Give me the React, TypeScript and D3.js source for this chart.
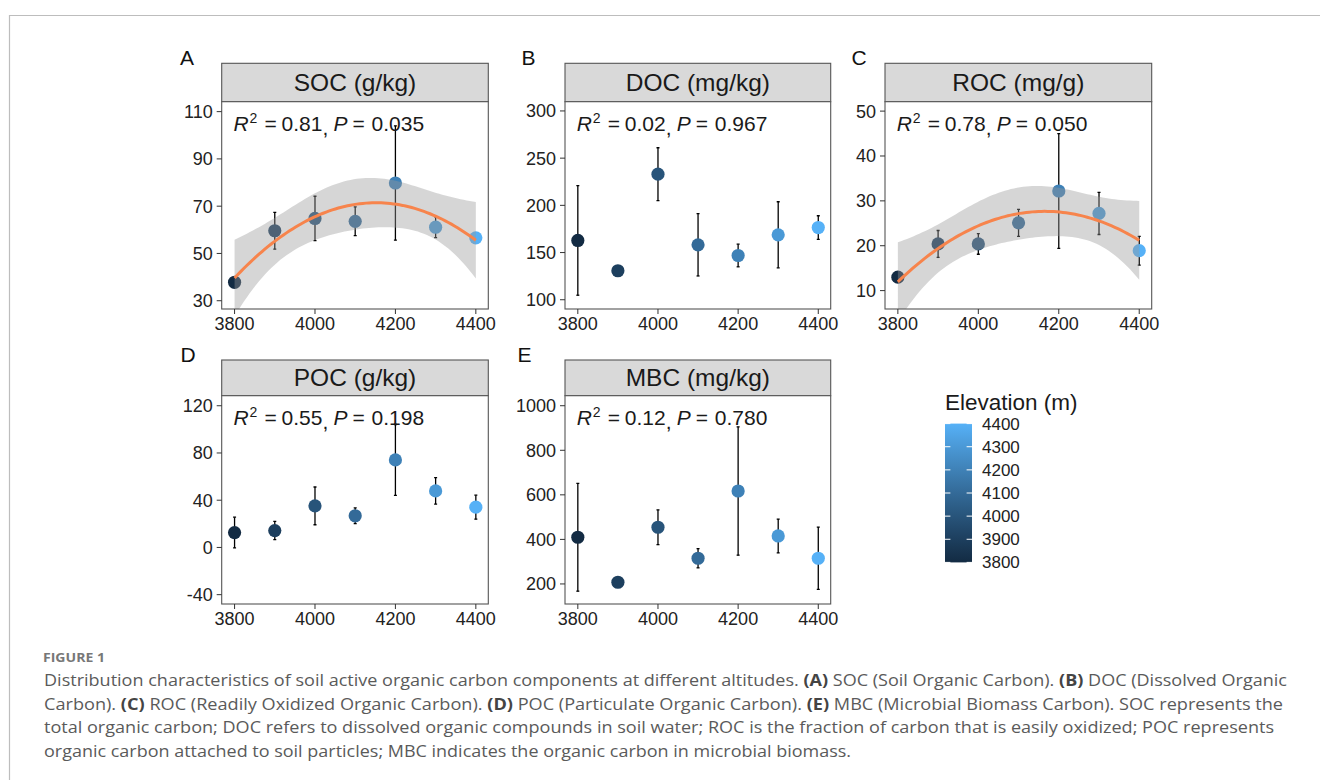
import React from "react";
import * as d3 from "d3";

// ---------------- DATA ----------------
const ELEVATION = [3800, 3900, 4000, 4100, 4200, 4300, 4400];
const X_TICKS = [3800, 4000, 4200, 4400];

const SOC_MEAN = [37.8, 59.6, 64.8, 63.6, 79.8, 61.1, 56.6];
const SOC_ERR = [1.0, 7.8, 9.4, 6.1, 24.2, 4.4, 1.0];
const SOC_TICKS = [30, 50, 70, 90, 110];

const DOC_MEAN = [162.8, 130.7, 233.0, 158.2, 146.9, 168.8, 176.5];
const DOC_ERR = [58.0, 5.0, 28.0, 33.0, 12.0, 35.0, 12.5];
const DOC_TICKS = [100, 150, 200, 250, 300];

const ROC_MEAN = [13.0, 20.4, 20.4, 25.1, 32.2, 27.2, 18.9];
const ROC_ERR = [0.6, 3.0, 2.3, 3.0, 12.8, 4.7, 3.2];
const ROC_TICKS = [10, 20, 30, 40, 50];

const POC_MEAN = [12.6, 14.3, 35.2, 26.8, 74.1, 47.9, 34.1];
const POC_ERR = [13.0, 7.7, 16.0, 6.7, 30.0, 11.2, 10.2];
const POC_TICKS = [-40, 0, 40, 80, 120];

const MBC_MEAN = [409.6, 207.7, 454.5, 315.4, 617.3, 415.4, 315.4];
const MBC_ERR = [242, 10, 78, 43, 288, 76, 140];
const MBC_TICKS = [200, 400, 600, 800, 1000];

const LEGEND_TICKS = [3800, 3900, 4000, 4100, 4200, 4300, 4400];

const PANEL_TITLES = ["SOC (g/kg)", "DOC (mg/kg)", "ROC (mg/g)", "POC (g/kg)", "MBC (mg/kg)"];
const PANEL_LETTERS = ["A", "B", "C", "D", "E"];
const R2_TEXT = ["0.81", "0.02", "0.78", "0.55", "0.12"];
const P_TEXT = ["0.035", "0.967", "0.050", "0.198", "0.780"];

// ---------------- LAYOUT ----------------
const COL_LEFT = [221.7, 565, 885];
const COL_RIGHT = [488.3, 830.7, 1151.7];
const STRIP_TOP = [63.3, 360];
const STRIP_BOTTOM = [101.7, 395.7];
const PANEL_BOTTOM = [309, 604];
const X_DOMAIN: [number, number] = [3768, 4431];

const FONT = "'Liberation Sans', Arial, sans-serif";
const colorScale = d3
  .scaleLinear<string>()
  .domain([3800, 4400])
  .range(["#132B43", "#56B1F7"])
  .interpolate(d3.interpolateLab);

type Panel = {
  mean: number[];
  err: number[];
  ticks: number[];
  domain: [number, number];
  fit: boolean;
  col: number;
  row: number;
  labelX: number;
};

const PANELS: Panel[] = [
  { mean: SOC_MEAN, err: SOC_ERR, ticks: SOC_TICKS, domain: [26.5, 114.2], fit: true, col: 0, row: 0, labelX: 180 },
  { mean: DOC_MEAN, err: DOC_ERR, ticks: DOC_TICKS, domain: [90.2, 309.8], fit: false, col: 1, row: 0, labelX: 521.5 },
  { mean: ROC_MEAN, err: ROC_ERR, ticks: ROC_TICKS, domain: [5.9, 52.1], fit: true, col: 2, row: 0, labelX: 851.5 },
  { mean: POC_MEAN, err: POC_ERR, ticks: POC_TICKS, domain: [-47.9, 128.5], fit: false, col: 0, row: 1, labelX: 180.5 },
  { mean: MBC_MEAN, err: MBC_ERR, ticks: MBC_TICKS, domain: [110, 1045], fit: false, col: 1, row: 1, labelX: 517.5 },
];

// quadratic least squares fit with 95% confidence band (like geom_smooth(method="lm", formula=y~poly(x,2)))
function quadFit(xs: number[], ys: number[]) {
  const n = xs.length;
  const xm = d3.mean(xs) as number;
  const ts = xs.map((x) => (x - xm) / 100);
  const A = [
    [0, 0, 0],
    [0, 0, 0],
    [0, 0, 0],
  ];
  const bv = [0, 0, 0];
  ts.forEach((t, i) => {
    const v = [1, t, t * t];
    for (let r = 0; r < 3; r++) {
      bv[r] += v[r] * ys[i];
      for (let c = 0; c < 3; c++) A[r][c] += v[r] * v[c];
    }
  });
  // invert 3x3
  const [a, b, c] = A[0];
  const [d, e, f] = A[1];
  const [g, h, k] = A[2];
  const det = a * (e * k - f * h) - b * (d * k - f * g) + c * (d * h - e * g);
  const inv = [
    [(e * k - f * h) / det, (c * h - b * k) / det, (b * f - c * e) / det],
    [(f * g - d * k) / det, (a * k - c * g) / det, (c * d - a * f) / det],
    [(d * h - e * g) / det, (b * g - a * h) / det, (a * e - b * d) / det],
  ];
  const beta = inv.map((row) => row[0] * bv[0] + row[1] * bv[1] + row[2] * bv[2]);
  const pred = (t: number) => beta[0] + beta[1] * t + beta[2] * t * t;
  const ssRes = d3.sum(ts, (t, i) => (ys[i] - pred(t)) ** 2);
  const s = Math.sqrt(ssRes / (n - 3));
  const tCrit = 2.776; // qt(0.975, df = 4)
  return (x: number) => {
    const t = (x - xm) / 100;
    const v = [1, t, t * t];
    let q = 0;
    for (let r = 0; r < 3; r++) for (let cc = 0; cc < 3; cc++) q += v[r] * inv[r][cc] * v[cc];
    const y = pred(t);
    const se = s * Math.sqrt(q);
    return { x, y, lo: y - tCrit * se, hi: y + tCrit * se };
  };
}

function PanelView({ p, i }: { p: Panel; i: number }) {
  const left = COL_LEFT[p.col];
  const right = COL_RIGHT[p.col];
  const sTop = STRIP_TOP[p.row];
  const top = STRIP_BOTTOM[p.row];
  const bottom = PANEL_BOTTOM[p.row];
  const x = d3.scaleLinear().domain(X_DOMAIN).range([left, right]);
  const y = d3.scaleLinear().domain(p.domain).range([bottom, top]);
  const clipId = `clip${i}`;

  let ribbon: string | null = null;
  let line: string | null = null;
  if (p.fit) {
    const f = quadFit(ELEVATION, p.mean);
    const grid = d3.range(0, 80).map((j) => f(3800 + (600 * j) / 79));
    ribbon = d3
      .area<any>()
      .x((d) => x(d.x))
      .y0((d) => y(d.lo))
      .y1((d) => y(d.hi))(grid);
    line = d3
      .line<any>()
      .x((d) => x(d.x))
      .y((d) => y(d.y))(grid);
  }

  const annX = x(3800) - 1;
  const annY = top + 29;

  return (
    <g>
      <defs>
        <clipPath id={clipId}>
          <rect x={left} y={top} width={right - left} height={bottom - top} />
        </clipPath>
      </defs>
      {/* panel letter */}
      <text x={p.labelX} y={sTop + 2} fontFamily={FONT} fontSize={21} fill="#111">
        {PANEL_LETTERS[i]}
      </text>
      {/* strip */}
      <rect x={left} y={sTop} width={right - left} height={top - sTop} fill="#D9D9D9" stroke="#555" strokeWidth={1.1} />
      <text
        x={(left + right) / 2}
        y={(sTop + top) / 2 + 8.6}
        textAnchor="middle"
        fontFamily={FONT}
        fontSize={24.5}
        fill="#1a1a1a"
      >
        {PANEL_TITLES[i]}
      </text>
      {/* panel background */}
      <rect x={left} y={top} width={right - left} height={bottom - top} fill="#fff" />
      <g clipPath={`url(#${clipId})`}>
        {ELEVATION.map((e, j) => (
          <g key={"eb" + j} stroke="#000" strokeWidth={1.3}>
            <line x1={x(e)} x2={x(e)} y1={y(p.mean[j] - p.err[j])} y2={y(p.mean[j] + p.err[j])} />
            <line x1={x(e) - 1.5} x2={x(e) + 1.5} y1={y(p.mean[j] - p.err[j])} y2={y(p.mean[j] - p.err[j])} />
            <line x1={x(e) - 1.5} x2={x(e) + 1.5} y1={y(p.mean[j] + p.err[j])} y2={y(p.mean[j] + p.err[j])} />
          </g>
        ))}
        {ELEVATION.map((e, j) => (
          <circle key={"pt" + j} cx={x(e)} cy={y(p.mean[j])} r={6.6} fill={colorScale(e)} />
        ))}
        {ribbon && <path d={ribbon} fill="#999999" fillOpacity={0.4} />}
        {line && <path d={line} fill="none" stroke="#F7844C" strokeWidth={3} />}
      </g>
      {/* border */}
      <rect x={left} y={top} width={right - left} height={bottom - top} fill="none" stroke="#555" strokeWidth={1.1} />
      {/* y axis */}
      {p.ticks.map((t) => (
        <g key={"yt" + t}>
          <line x1={left - 5} x2={left} y1={y(t)} y2={y(t)} stroke="#333" strokeWidth={1} />
          <text
            x={left - 9}
            y={y(t) + 6.4}
            textAnchor="end"
            fontFamily={FONT}
            fontSize={18}
            fill="#222"
          >
            {t}
          </text>
        </g>
      ))}
      {/* x axis */}
      {X_TICKS.map((t) => (
        <g key={"xt" + t}>
          <line x1={x(t)} x2={x(t)} y1={bottom} y2={bottom + 5} stroke="#333" strokeWidth={1} />
          <text x={x(t)} y={bottom + 20.5} textAnchor="middle" fontFamily={FONT} fontSize={18} fill="#222">
            {t}
          </text>
        </g>
      ))}
      {/* annotation */}
      <text fontFamily={FONT} fontSize={21} fill="#1a1a1a" y={annY}>
        <tspan x={annX} fontStyle="italic">R</tspan>
        <tspan x={annX + 16} y={annY - 8} fontSize={14}>2</tspan>
        <tspan x={annX + 31} y={annY}>=</tspan>
        <tspan x={annX + 48}>{R2_TEXT[i]}</tspan>
        <tspan x={annX + 89} y={annY + 4}>,</tspan>
        <tspan x={annX + 100} y={annY} fontStyle="italic">P</tspan>
        <tspan x={annX + 119}>=</tspan>
        <tspan x={annX + 138}>{P_TEXT[i]}</tspan>
      </text>
    </g>
  );
}

function Legend() {
  const ly = d3.scaleLinear().domain([3800, 4400]).range([562.4, 423.6]);
  const barX = 945;
  const barW = 27;
  const stops = d3.range(0, 11).map((k) => 3800 + k * 60);
  return (
    <g>
      <defs>
        <linearGradient id="elevGrad" x1="0" y1="1" x2="0" y2="0">
          {stops.map((s, k) => (
            <stop key={k} offset={`${(k / 10) * 100}%`} stopColor={colorScale(s)} />
          ))}
        </linearGradient>
      </defs>
      <text x={945} y={410} fontFamily={FONT} fontSize={22.5} fill="#1a1a1a">
        Elevation (m)
      </text>
      <rect x={barX} y={ly(4400)} width={barW} height={ly(3800) - ly(4400)} fill="url(#elevGrad)" />
      {LEGEND_TICKS.map((t) => (
        <g key={t}>
          <line x1={barX} x2={barX + 5.4} y1={ly(t)} y2={ly(t)} stroke="#fff" strokeWidth={1} />
          <line x1={barX + barW - 5.4} x2={barX + barW} y1={ly(t)} y2={ly(t)} stroke="#fff" strokeWidth={1} />
          <text x={982} y={ly(t) + 6} fontFamily={FONT} fontSize={17} fill="#222">
            {t}
          </text>
        </g>
      ))}
    </g>
  );
}

const CAP_FONT = "'Open Sans', 'Noto Sans', sans-serif";

function Caption() {
  const bold = (s: string) => (
    <tspan fontWeight="bold" fill="#444">
      {s}
    </tspan>
  );
  return (
    <g fontFamily={CAP_FONT} fill="#5a5a5a" fontSize={15.5}>
      <text x={43} y={662} fontSize={12.5} fontWeight="bold" fill="#777" textLength={62} lengthAdjust="spacingAndGlyphs">
        FIGURE 1
      </text>
      <text x={44} y={686} textLength={1243} lengthAdjust="spacingAndGlyphs" style={{ whiteSpace: "pre" }}>
        {"Distribution characteristics of soil active organic carbon components at different altitudes. "}
        {bold("(A)")}
        {" SOC (Soil Organic Carbon). "}
        {bold("(B)")}
        {" DOC (Dissolved Organic"}
      </text>
      <text x={44} y={709.5} textLength={1239} lengthAdjust="spacingAndGlyphs" style={{ whiteSpace: "pre" }}>
        {"Carbon). "}
        {bold("(C)")}
        {" ROC (Readily Oxidized Organic Carbon). "}
        {bold("(D)")}
        {" POC (Particulate Organic Carbon). "}
        {bold("(E)")}
        {" MBC (Microbial Biomass Carbon). SOC represents the"}
      </text>
      <text x={44} y={733} textLength={1230} lengthAdjust="spacingAndGlyphs">
        total organic carbon; DOC refers to dissolved organic compounds in soil water; ROC is the fraction of carbon that is easily oxidized; POC represents
      </text>
      <text x={44} y={756.5} textLength={807} lengthAdjust="spacingAndGlyphs">
        organic carbon attached to soil particles; MBC indicates the organic carbon in microbial biomass.
      </text>
    </g>
  );
}

export default function App() {
  return (
    <div style={{ position: "absolute", left: 0, top: 0 }}>
      <svg width={1320} height={780} style={{ display: "block", background: "#fff" }}>
        <rect x={0} y={0} width={1320} height={780} fill="#fff" />
        <path d="M9.5,780 L9.5,15.5 L1320,15.5" fill="none" stroke="#bdbdbd" strokeWidth={1.2} />
        {PANELS.map((p, i) => (
          <PanelView key={i} p={p} i={i} />
        ))}
        <Legend />
        <Caption />
      </svg>
    </div>
  );
}
